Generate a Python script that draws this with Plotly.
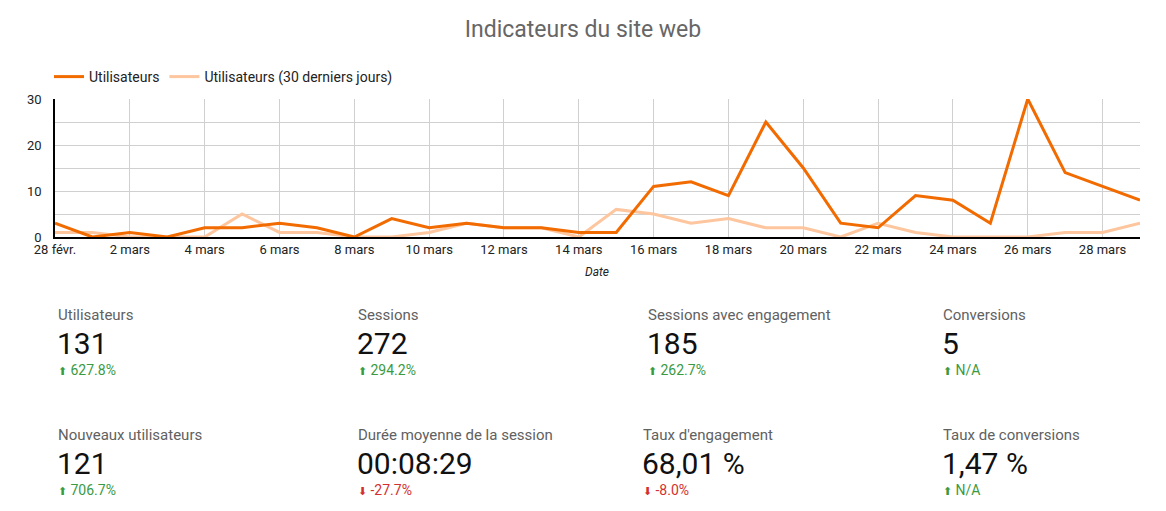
import plotly.graph_objects as go

# --- data ---
dates = ["28 févr."] + [f"{d} mars" for d in range(1, 30)]
users = [3, 0, 1, 0, 2, 2, 3, 2, 0, 4, 2, 3, 2, 2, 1, 1, 11, 12, 9, 25,
         15, 3, 2, 9, 8, 3, 30, 14, 11, 8]
users_prev = [1, 1, 0, 0, 0, 5, 1, 1, 0, 0, 1, 3, 2, 2, 0, 6, 5, 3, 4, 2,
              2, 0, 3, 1, 0, 0, 0, 1, 1, 3]

card_labels = ["Utilisateurs", "Sessions", "Sessions avec engagement", "Conversions",
               "Nouveaux utilisateurs", "Durée moyenne de la session",
               "Taux d'engagement", "Taux de conversions"]
card_values = ["131", "272", "185", "5", "121", "00:08:29", "68,01 %", "1,47 %"]
card_deltas = ["627.8%", "294.2%", "262.7%", "N/A", "706.7%", "-27.7%", "-8.0%", "N/A"]
card_up = [True, True, True, True, True, False, False, True]

# page is 1166x511, body has 8px margin
W, H = 1150, 495
def X(px): return (px - 8) / W
def Y(py): return 1 - (py - 8) / H

DARK = "#f26b00"
LIGHT = "#fdc69e"
GREEN = "#3a9a3f"
RED = "#d32f2f"
FONT = "Roboto"

fig = go.Figure()
# light series sits under the dark one
fig.add_trace(go.Scatter(x=dates, y=users_prev, mode="lines",
                         name="Utilisateurs (30 derniers jours)",
                         line=dict(color=LIGHT, width=3)))
fig.add_trace(go.Scatter(x=dates, y=users, mode="lines", name="Utilisateurs",
                         line=dict(color=DARK, width=3)))

fig.update_xaxes(
    domain=[X(55), X(1140)], range=[0, len(dates) - 1],
    type="category", tickvals=dates[::2], ticktext=dates[::2],
    showgrid=True, gridcolor="#d0d0d0", gridwidth=1,
    showline=True, linecolor="#000", linewidth=1.5,
    ticks="", tickfont=dict(size=13, color="#222", family=FONT),
    automargin=False, fixedrange=True,
)
fig.update_yaxes(
    domain=[Y(237), Y(99)], range=[0, 30], tickvals=[0, 10, 20, 30],
    showgrid=True, gridcolor="#d0d0d0", gridwidth=1,
    minor=dict(dtick=5, showgrid=True, gridcolor="#d0d0d0"),
    showline=True, linecolor="#000", linewidth=1.5, zeroline=False,
    ticks="", ticklabelstandoff=9,
    tickfont=dict(size=13, color="#222", family=FONT),
    automargin=False, fixedrange=True,
)

ann = [dict(text="<i>Date</i>", x=X(597), y=Y(272), xref="paper", yref="paper",
            showarrow=False, font=dict(size=12, color="#222", family=FONT))]

cols = [[57, 357, 647, 942], [57, 357, 642, 942]]
for i, lab in enumerate(card_labels):
    r, c = divmod(i, 4)
    x0 = cols[r][c]
    top = 315 + r * 120
    ann.append(dict(text=lab, x=X(x0 - 1), y=Y(top), xref="paper", yref="paper",
                    xanchor="left", yanchor="middle", showarrow=False,
                    font=dict(size=15, color="#616161", family=FONT)))
    ann.append(dict(text=card_values[i], x=X(x0 - 2), y=Y(top + 28), xref="paper",
                    yref="paper", xanchor="left", yanchor="middle", showarrow=False,
                    font=dict(size=30, color="#111", family=FONT)))
    col = GREEN if card_up[i] else RED
    arrow = "⬆" if card_up[i] else "⬇"
    ann.append(dict(text=f"<span style='font-size:11px'>{arrow}</span> {card_deltas[i]}",
                    x=X(x0 - 1), y=Y(top + 55), xref="paper", yref="paper",
                    xanchor="left", yanchor="middle", showarrow=False,
                    font=dict(size=14, color=col, family=FONT)))

fig.update_layout(
    width=W, height=H, margin=dict(l=0, r=0, t=0, b=0),
    paper_bgcolor="white", plot_bgcolor="white",
    font=dict(family=FONT),
    title=dict(text="Indicateurs du site web", x=X(583), y=Y(29), xanchor="center",
               yanchor="middle", font=dict(size=23, color="#666", family=FONT)),
    legend=dict(orientation="h", x=X(49), y=Y(77), xanchor="left", yanchor="middle",
                font=dict(size=14, color="#222", family=FONT), traceorder="reversed"),
    annotations=ann,
    showlegend=True,
)

fig.write_html("out.html")
